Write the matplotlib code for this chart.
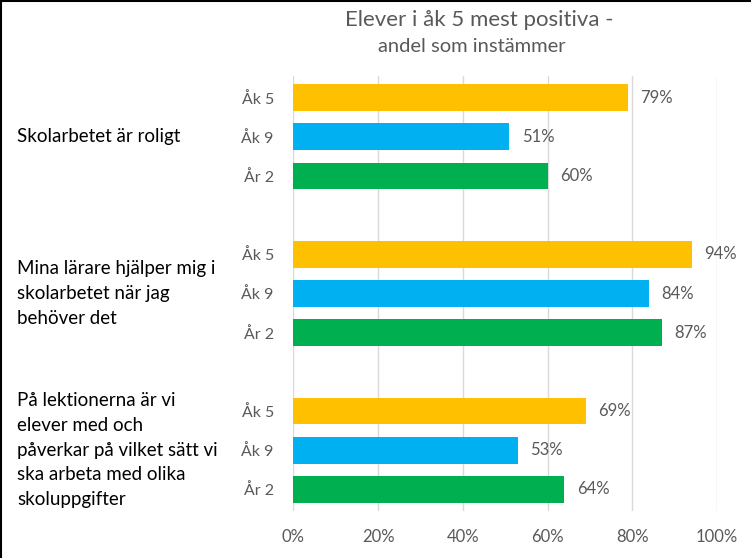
import matplotlib.pyplot as plt
from matplotlib.lines import Line2D
from matplotlib.transforms import blended_transform_factory

plt.rcParams["font.family"] = ["Lato", "DejaVu Sans"]

# data
statements = [
    "Skolarbetet är roligt",
    "Mina lärare hjälper mig i\nskolarbetet när jag\nbehöver det",
    "På lektionerna är vi\nelever med och\npåverkar på vilket sätt vi\nska arbeta med olika\nskoluppgifter",
]
groups = ["Åk 5", "Åk 9", "År 2"]
ak5 = [79, 94, 69]
ak9 = [51, 84, 53]
ar2 = [60, 87, 64]
colors = ["#FFC000", "#00B0F0", "#00B050"]
x_ticks = [0, 20, 40, 60, 80, 100]

text_color = "#595959"

fig = plt.figure(figsize=(7.51, 5.58), dpi=100)
ax = fig.add_axes([293.3 / 751, 0.0842, (717 - 293.3) / 751, 0.7796])

series = [ak5, ak9, ar2]
ypos = []
ylabels = []
for i in range(len(statements)):
    for j, vals in enumerate(series):
        y = i * 4 + j
        ax.barh(y, vals[i], height=0.68, color=colors[j], zorder=3)
        ax.annotate(f"{vals[i]}%", (vals[i], y), xytext=(9, 0),
                    textcoords="offset points", va="center", ha="left",
                    fontsize=12, color=text_color)
        ypos.append(y)
        ylabels.append(groups[j])

ax.set_ylim(10.55, -0.55)
ax.set_xlim(0, 100)
ax.set_yticks(ypos)
ax.set_yticklabels(ylabels, fontsize=11.5, color=text_color)
ax.set_xticks(x_ticks)
ax.set_xticklabels([f"{t}%" for t in x_ticks], fontsize=12, color=text_color)
ax.tick_params(axis="y", length=0, pad=14)
ax.tick_params(axis="x", length=0, pad=13)
ax.grid(axis="x", color="#D9D9D9", linewidth=1, zorder=0)
for s in ax.spines.values():
    s.set_visible(False)

trans = blended_transform_factory(fig.transFigure, ax.transData)
for i, label in enumerate(statements):
    ax.text(17 / 751, i * 4 + 1, label, transform=trans, ha="left", va="center",
            fontsize=13.5, color="#000000", linespacing=1.55)

fig.text(479 / 751, 1 - 20 / 558, "Elever i åk 5 mest positiva -", ha="center",
         va="center", fontsize=16, color=text_color)
fig.text(472 / 751, 1 - 47 / 558, "andel som instämmer", ha="center",
         va="center", fontsize=14.5, color=text_color)

# border on top and left edges
fig.add_artist(Line2D([0, 1], [0.998, 0.998], transform=fig.transFigure,
                      color="black", linewidth=1.5))
fig.add_artist(Line2D([0.0013, 0.0013], [0, 1], transform=fig.transFigure,
                      color="black", linewidth=1.5))

fig.savefig("out.png", dpi=100)
